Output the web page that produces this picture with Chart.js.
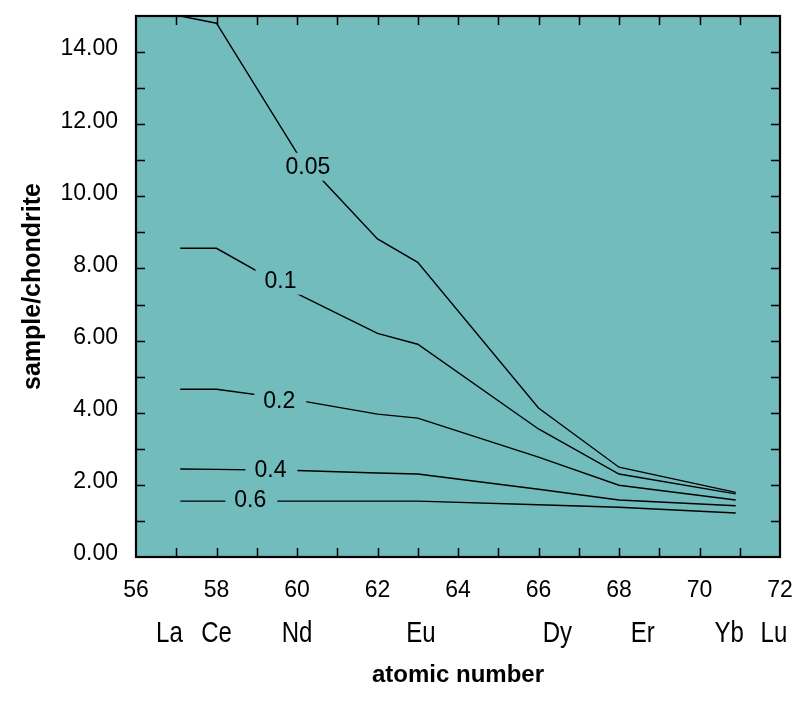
<!DOCTYPE html>
<html>
<head>
<meta charset="utf-8">
<script src="https://cdn.jsdelivr.net/npm/chart.js@4/dist/chart.umd.min.js"></script>
<style>
  html, body { margin: 0; padding: 0; background: #fff; }
  #wrap { width: 800px; height: 705px; }
</style>
</head>
<body>
<div id="wrap"><canvas id="reeChart"></canvas></div>
<script>
// atomic number at each vertex of the curves
const atomicNumbers = [57.1, 58, 60, 62, 63, 66, 68, 70.9];

// sample/chondrite along each curve
const curve005 = [15.0, 14.8, 11.2, 8.82, 8.17, 4.13, 2.49, 1.79];
const curve01 = [8.56, 8.56, 7.3, 6.2, 5.9, 3.55, 2.3, 1.75];
const curve02 = [4.65, 4.65, 4.35, 3.96, 3.85, 2.77, 1.99, 1.58];
const curve04 = [2.44, 2.43, 2.40, 2.33, 2.30, 1.88, 1.58, 1.42];
const curve06 = [1.55, 1.55, 1.55, 1.55, 1.55, 1.45, 1.38, 1.22];

const curveNames = ['0.05', '0.1', '0.2', '0.4', '0.6'];
const curveValues = [curve005, curve01, curve02, curve04, curve06];

// where the curve numbers sit (data units)
const curveLabelX = [60.27, 59.59, 59.56, 59.34, 58.84];
const curveLabelY = [10.82, 7.66, 4.34, 2.41, 1.58];

// element names under the axis
const elementNames = ['La', 'Ce', 'Nd', 'Eu', 'Dy', 'Er', 'Yb', 'Lu'];
const elementPos = [56.83, 58.0, 60.0, 63.08, 66.47, 68.59, 70.74, 71.85];

const xTicks = [56, 58, 60, 62, 64, 66, 68, 70, 72];
const yTicks = [0, 2, 4, 6, 8, 10, 12, 14];

const FONT = "'Liberation Sans', Arial, Helvetica, sans-serif";
const PLOT_BG = '#72bcbd';

// fond turquoise de la zone de tracé
const plotBackground = {
  id: 'plotBackground',
  beforeDatasetsDraw(chart) {
    const { ctx, chartArea: a } = chart;
    ctx.save();
    ctx.fillStyle = PLOT_BG;
    ctx.fillRect(a.left, a.top, a.right - a.left, a.bottom - a.top);
    ctx.restore();
  }
};

// numéros des courbes, posés sur un cache de la couleur du fond
const curveLabels = {
  id: 'curveLabels',
  afterDatasetsDraw(chart) {
    const { ctx } = chart;
    const xs = chart.scales.x, ys = chart.scales.y;
    ctx.save();
    ctx.font = '23px ' + FONT;
    ctx.textAlign = 'center';
    ctx.textBaseline = 'middle';
    curveNames.forEach((name, i) => {
      const px = xs.getPixelForValue(curveLabelX[i]);
      const py = ys.getPixelForValue(curveLabelY[i]);
      const w = ctx.measureText(name).width;
      ctx.fillStyle = PLOT_BG;
      ctx.fillRect(px - w / 2 - 9, py - 14, w + 20, 28);
      ctx.fillStyle = '#000';
      ctx.fillText(name, px, py + 1);
    });
    ctx.restore();
  }
};

// cadre et graduations intérieures
const frameTicks = {
  id: 'frameTicks',
  afterDatasetsDraw(chart) {
    const { ctx, chartArea: a } = chart;
    const xs = chart.scales.x, ys = chart.scales.y;
    const len = 9;
    ctx.save();
    ctx.strokeStyle = '#000';
    ctx.lineWidth = 1.5;
    ctx.beginPath();
    for (let v = 57; v < 72; v++) {
      const px = Math.round(xs.getPixelForValue(v)) + 0.5;
      ctx.moveTo(px, a.bottom); ctx.lineTo(px, a.bottom - len);
      ctx.moveTo(px, a.top); ctx.lineTo(px, a.top + len);
    }
    for (let v = 1; v < 15; v++) {
      const py = Math.round(ys.getPixelForValue(v)) + 0.5;
      ctx.moveTo(a.left, py); ctx.lineTo(a.left + len, py);
      ctx.moveTo(a.right, py); ctx.lineTo(a.right - len, py);
    }
    ctx.stroke();
    ctx.lineWidth = 2.2;
    ctx.strokeRect(a.left, a.top, a.right - a.left, a.bottom - a.top);
    ctx.restore();
  }
};

// symboles des éléments sous l'axe
const elementLabels = {
  id: 'elementLabels',
  afterDraw(chart) {
    const { ctx, chartArea: a } = chart;
    const xs = chart.scales.x;
    ctx.save();
    ctx.font = '30px ' + FONT;
    ctx.fillStyle = '#000';
    ctx.textAlign = 'center';
    ctx.textBaseline = 'alphabetic';
    elementNames.forEach((name, i) => {
      const px = xs.getPixelForValue(elementPos[i]);
      ctx.save();
      ctx.translate(px, a.bottom + 85);
      ctx.scale(0.8, 1);
      ctx.fillText(name, 0, 0);
      ctx.restore();
    });
    ctx.restore();
  }
};

function initReeChart() {
  const ctx = document.getElementById('reeChart');
  if (!ctx) return;

  new Chart(ctx, {
    type: 'line',
    data: {
      datasets: curveValues.map((vals, i) => ({
        label: curveNames[i],
        data: vals.map((y, j) => ({ x: atomicNumbers[j], y: y })),
        borderColor: '#000',
        borderWidth: 1.4,
        pointRadius: 0,
        tension: 0,
        fill: false
      }))
    },
    options: {
      responsive: true,
      maintainAspectRatio: false,
      animation: false,
      layout: {
        padding: { top: 16, right: 20, left: 0, bottom: 0 }
      },
      plugins: {
        legend: { display: false },
        tooltip: { enabled: false }
      },
      scales: {
        x: {
          type: 'linear',
          min: 56,
          max: 72,
          afterBuildTicks: (scale) => { scale.ticks = xTicks.map(v => ({ value: v })); },
          afterFit: (scale) => {
            scale.height = 148;
            scale.paddingLeft = 0;
            scale.paddingRight = 0;
          },
          grid: { display: false, drawTicks: false },
          border: { display: false },
          ticks: {
            color: '#000',
            padding: 20,
            autoSkip: false,
            maxRotation: 0,
            font: { family: FONT, size: 23 }
          },
          title: {
            display: true,
            text: 'atomic number',
            color: '#000',
            padding: { top: 0, bottom: 15 },
            font: { family: FONT, size: 24, weight: 'bold' }
          }
        },
        y: {
          min: 0,
          max: 15,
          afterBuildTicks: (scale) => { scale.ticks = yTicks.map(v => ({ value: v })); },
          afterFit: (scale) => {
            scale.width = 136;
            scale.paddingTop = 0;
            scale.paddingBottom = 0;
          },
          grid: { display: false, drawTicks: false },
          border: { display: false },
          ticks: {
            color: '#000',
            padding: 18,
            labelOffset: -3,
            font: { family: FONT, size: 23 },
            callback: (v) => Number(v).toFixed(2)
          },
          title: {
            display: true,
            text: 'sample/chondrite',
            color: '#000',
            padding: { top: 18, bottom: 0 },
            font: { family: FONT, size: 25, weight: 'bold' }
          }
        }
      }
    },
    plugins: [plotBackground, curveLabels, frameTicks, elementLabels]
  });
}

document.addEventListener('DOMContentLoaded', () => {
  initReeChart();
});
</script>
</body>
</html>
